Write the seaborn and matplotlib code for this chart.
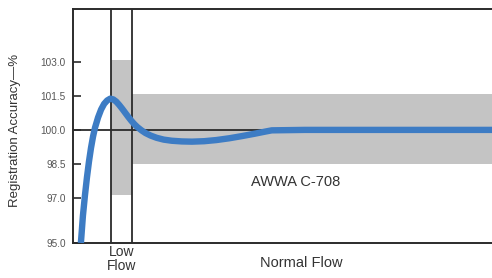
import numpy as np
import pandas as pd
import matplotlib
matplotlib.use("Agg")
import matplotlib.pyplot as plt
import seaborn as sns

# ─────────────────────────────────────────────
# Data
# ─────────────────────────────────────────────
flow = [8, 9, 10, 12, 14, 16, 18, 20, 22, 25, 28, 31, 34, 37, 40, 43, 46,
        49, 52, 55, 58, 61, 64, 68, 72, 77, 83, 90, 98, 108, 118, 130, 142,
        155, 168, 180, 190, 197, 230, 300, 419]
accuracy = [95.0, 95.6, 96.2, 97.1, 97.9, 98.6, 99.2, 99.7, 100.1, 100.55,
            100.9, 101.15, 101.3, 101.38, 101.35, 101.25, 101.1, 100.93,
            100.75, 100.57, 100.4, 100.25, 100.12, 99.98, 99.86, 99.75, 99.65,
            99.57, 99.52, 99.49, 99.48, 99.5, 99.55, 99.63, 99.73, 99.83,
            99.92, 99.98, 100.0, 100.0, 100.0]

yticks = [95.0, 97.0, 98.5, 100.0, 101.5, 103.0]
ytick_labels = ["95.0", "97.0", "98.5", "100.0", "101.5", "103.0"]

low_flow = [38, 59]              # low-flow zone (x range)
low_band = [97.1, 103.1]         # tolerance in low flow
normal_band = [98.5, 101.6]      # AWWA C-708 tolerance in normal flow
x_max = 419

df = pd.DataFrame({"flow": flow, "accuracy": accuracy})

# ─────────────────────────────────────────────
# Plot
# ─────────────────────────────────────────────
sns.set_theme(style="white")
plt.rcParams["font.family"] = ["Liberation Sans", "DejaVu Sans"]

fig = plt.figure(figsize=(4.92, 2.78), dpi=100)
ax = fig.add_axes([0.148, 0.126, 0.86, 0.842])

band_col = "#c4c4c4"
line_col = "#2b2b2b"
text_col = "#333333"

ax.fill_between(low_flow, low_band[0], low_band[1], color=band_col, lw=0, zorder=1)
ax.fill_between([low_flow[1], x_max], normal_band[0], normal_band[1],
                color=band_col, lw=0, zorder=1)

ax.axhline(100.0, color=line_col, lw=1.3, zorder=2)
for xv in low_flow:
    ax.axvline(xv, color=line_col, lw=1.3, zorder=2)

sns.lineplot(data=df, x="flow", y="accuracy", ax=ax, color="#3d7cc4",
             lw=4.6, solid_capstyle="butt", zorder=3)

ax.set_xlim(0, x_max)
ax.set_ylim(95.0, 105.35)
ax.set_yticks(yticks)
ax.set_yticklabels(ytick_labels)
ax.set_xticks([])
ax.set_xlabel("")
ax.set_ylabel("")
ax.tick_params(axis="y", direction="in", length=6, width=1.2, left=True,
               labelsize=7.2, labelcolor="#555555", color=line_col, pad=5)

for side in ["left", "bottom", "top"]:
    ax.spines[side].set_color(line_col)
    ax.spines[side].set_linewidth(1.4)
ax.spines["right"].set_visible(False)

fig.text(15 / 492, 1 - 130 / 278, "Registration Accuracy—%", rotation=90,
         ha="center", va="center", fontsize=9.5, color=text_col)
fig.text(296 / 492, 1 - 182 / 278, "AWWA C-708", ha="center", va="center",
         fontsize=10.5, color=text_col)
fig.text(122 / 492, 1 - 259 / 278, "Low\nFlow", ha="center", va="center",
         fontsize=10, color=text_col, linespacing=0.95)
fig.text(301 / 492, 1 - 263 / 278, "Normal Flow", ha="center", va="center",
         fontsize=10.5, color=text_col)

fig.savefig("out.png", dpi=100)
